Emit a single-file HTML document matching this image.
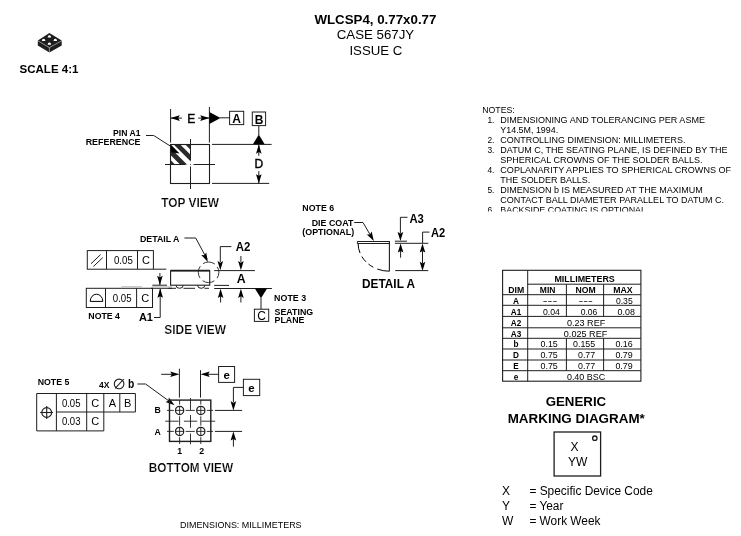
<!DOCTYPE html>
<html><head><meta charset="utf-8"><style>
html,body{margin:0;padding:0;background:#fff;}
svg{display:block;font-family:"Liberation Sans",sans-serif;will-change:transform;}
</style></head><body>
<svg width="741" height="536" viewBox="0 0 741 536">
<defs>
<clipPath id="nclip"><rect x="470" y="95" width="271" height="116.4"/></clipPath>
<clipPath id="hclip"><rect x="170.5" y="144.5" width="20" height="20"/></clipPath>
</defs>
<rect width="741" height="536" fill="#fff"/>
<polygon points="49.40,33.00 61.70,40.60 61.70,45.40 49.40,52.60 37.80,45.40 37.80,40.60" fill="#1e1e1e" />
<polyline points="37.8,40.8 49.4,47.6 61.7,40.8" fill="none" stroke="#fff" stroke-width="0.5" />
<line x1="49.4" y1="47.6" x2="49.4" y2="52.6" stroke="#fff" stroke-width="0.5" />
<path d="M47.6,37.5 Q47.9,35.1 49.4,35.2 Q50.9,35.1 51.199999999999996,37.5 Z" fill="#fff"/>
<path d="M41.800000000000004,41.1 Q42.1,38.7 43.6,38.800000000000004 Q45.1,38.7 45.4,41.1 Z" fill="#fff"/>
<path d="M53.5,41.1 Q53.8,38.7 55.3,38.800000000000004 Q56.8,38.7 57.099999999999994,41.1 Z" fill="#fff"/>
<path d="M47.6,44.699999999999996 Q47.9,42.3 49.4,42.4 Q50.9,42.3 51.199999999999996,44.699999999999996 Z" fill="#fff"/>
<text x="19.5" y="72.5" font-size="11.8" font-weight="bold" text-anchor="start" textLength="59" lengthAdjust="spacingAndGlyphs" fill="#000" >SCALE 4:1</text>
<text x="314.4" y="23.9" font-size="13.2" font-weight="bold" text-anchor="start" textLength="122" lengthAdjust="spacingAndGlyphs" fill="#000" >WLCSP4, 0.77x0.77</text>
<text x="336.7" y="39" font-size="13" font-weight="normal" text-anchor="start" textLength="77.5" lengthAdjust="spacingAndGlyphs" fill="#000" >CASE 567JY</text>
<text x="349.4" y="54.5" font-size="13" font-weight="normal" text-anchor="start" textLength="53" lengthAdjust="spacingAndGlyphs" fill="#000" >ISSUE C</text>
<g clip-path="url(#nclip)">
<text x="482.2" y="113.2" font-size="8.4" font-weight="normal" text-anchor="start" textLength="32.6" lengthAdjust="spacingAndGlyphs" fill="#000" >NOTES:</text>
<text x="487.4" y="123.1" font-size="8.4" font-weight="normal" text-anchor="start" fill="#000" >1.</text>
<text x="500.3" y="123.1" font-size="8.4" font-weight="normal" text-anchor="start" textLength="204.7" lengthAdjust="spacingAndGlyphs" fill="#000" >DIMENSIONING AND TOLERANCING PER ASME</text>
<text x="500.3" y="133.1" font-size="8.4" font-weight="normal" text-anchor="start" textLength="57.9" lengthAdjust="spacingAndGlyphs" fill="#000" >Y14.5M, 1994.</text>
<text x="487.4" y="143.1" font-size="8.4" font-weight="normal" text-anchor="start" fill="#000" >2.</text>
<text x="500.3" y="143.1" font-size="8.4" font-weight="normal" text-anchor="start" textLength="185.2" lengthAdjust="spacingAndGlyphs" fill="#000" >CONTROLLING DIMENSION: MILLIMETERS.</text>
<text x="487.4" y="153.1" font-size="8.4" font-weight="normal" text-anchor="start" fill="#000" >3.</text>
<text x="500.3" y="153.1" font-size="8.4" font-weight="normal" text-anchor="start" textLength="227.2" lengthAdjust="spacingAndGlyphs" fill="#000" >DATUM C, THE SEATING PLANE, IS DEFINED BY THE</text>
<text x="500.3" y="163.1" font-size="8.4" font-weight="normal" text-anchor="start" textLength="202.3" lengthAdjust="spacingAndGlyphs" fill="#000" >SPHERICAL CROWNS OF THE SOLDER BALLS.</text>
<text x="487.4" y="173.1" font-size="8.4" font-weight="normal" text-anchor="start" fill="#000" >4.</text>
<text x="500.3" y="173.1" font-size="8.4" font-weight="normal" text-anchor="start" textLength="230.8" lengthAdjust="spacingAndGlyphs" fill="#000" >COPLANARITY APPLIES TO SPHERICAL CROWNS OF</text>
<text x="500.3" y="183.1" font-size="8.4" font-weight="normal" text-anchor="start" textLength="90.0" lengthAdjust="spacingAndGlyphs" fill="#000" >THE SOLDER BALLS.</text>
<text x="487.4" y="193.1" font-size="8.4" font-weight="normal" text-anchor="start" fill="#000" >5.</text>
<text x="500.3" y="193.1" font-size="8.4" font-weight="normal" text-anchor="start" textLength="202.5" lengthAdjust="spacingAndGlyphs" fill="#000" >DIMENSION b IS MEASURED AT THE MAXIMUM</text>
<text x="500.3" y="203.1" font-size="8.4" font-weight="normal" text-anchor="start" textLength="223.8" lengthAdjust="spacingAndGlyphs" fill="#000" >CONTACT BALL DIAMETER PARALLEL TO DATUM C.</text>
<text x="487.4" y="213.1" font-size="8.4" font-weight="normal" text-anchor="start" fill="#000" >6.</text>
<text x="500.3" y="213.1" font-size="8.4" font-weight="normal" text-anchor="start" textLength="145.7" lengthAdjust="spacingAndGlyphs" fill="#000" >BACKSIDE COATING IS OPTIONAL</text>
</g>
<g clip-path="url(#hclip)">
<polygon points="130.00,140.00 150.50,140.00 180.50,170.00 160.00,170.00" fill="#2a2a2a" />
<polygon points="155.50,140.00 162.50,140.00 192.50,170.00 185.50,170.00" fill="#2a2a2a" />
<polygon points="169.20,140.00 175.70,140.00 205.70,170.00 199.20,170.00" fill="#2a2a2a" />
<polygon points="180.80,140.00 188.00,140.00 218.00,170.00 210.80,170.00" fill="#2a2a2a" />
<polygon points="170.50,144.30 179.60,153.40 170.50,152.20" fill="#000" />
</g>
<rect x="170.5" y="144.5" width="39.0" height="39.0" fill="none" stroke="#1e1e1e" stroke-width="1.1"/>
<line x1="190.5" y1="139" x2="190.5" y2="160.5" stroke="#1e1e1e" stroke-width="1.0" />
<line x1="190.5" y1="166.5" x2="190.5" y2="189" stroke="#1e1e1e" stroke-width="1.0" />
<line x1="165" y1="164.5" x2="185.5" y2="164.5" stroke="#1e1e1e" stroke-width="1.0" />
<line x1="193.5" y1="164.5" x2="215" y2="164.5" stroke="#1e1e1e" stroke-width="1.0" />
<rect x="190" y="164" width="1" height="1" fill="#666"/>
<line x1="170.6" y1="109" x2="170.6" y2="142.6" stroke="#1e1e1e" stroke-width="1.0" />
<line x1="209.4" y1="107" x2="209.4" y2="142.6" stroke="#1e1e1e" stroke-width="1.0" />
<line x1="170.6" y1="118.1" x2="182" y2="118.1" stroke="#1e1e1e" stroke-width="1.0" />
<line x1="198.2" y1="118.1" x2="209.4" y2="118.1" stroke="#1e1e1e" stroke-width="1.0" />
<polygon points="170.60,118.10 179.80,115.30 178.20,118.10 179.80,120.90" fill="#000" />
<polygon points="209.40,118.10 200.20,120.90 201.80,118.10 200.20,115.30" fill="#000" />
<text x="191.2" y="122.6" font-size="12" font-weight="normal" text-anchor="middle" fill="#000"  stroke="#000" stroke-width="0.4">E</text>
<polygon points="209.40,111.90 209.40,124.00 220.50,117.90" fill="#000" />
<line x1="220" y1="117.8" x2="229.6" y2="117.8" stroke="#1e1e1e" stroke-width="1.0" />
<rect x="229.6" y="111.3" width="14.099999999999994" height="13.299999999999997" fill="none" stroke="#1e1e1e" stroke-width="1.0"/>
<text x="236.6" y="122.6" font-size="12" font-weight="bold" text-anchor="middle" fill="#000" >A</text>
<rect x="252.3" y="112" width="13.300000000000011" height="13.599999999999994" fill="none" stroke="#1e1e1e" stroke-width="1.0"/>
<text x="259" y="123.6" font-size="12" font-weight="bold" text-anchor="middle" fill="#000" >B</text>
<line x1="258.8" y1="125.6" x2="258.8" y2="135" stroke="#1e1e1e" stroke-width="1.0" />
<polygon points="252.80,144.50 264.80,144.50 258.80,134.40" fill="#000" />
<line x1="212" y1="144.4" x2="271.6" y2="144.4" stroke="#1e1e1e" stroke-width="1.0" />
<line x1="212" y1="183.4" x2="269.2" y2="183.4" stroke="#1e1e1e" stroke-width="1.0" />
<line x1="258.8" y1="144.5" x2="258.8" y2="155.8" stroke="#1e1e1e" stroke-width="1.0" />
<line x1="258.8" y1="171.2" x2="258.8" y2="183.4" stroke="#1e1e1e" stroke-width="1.0" />
<polygon points="258.80,144.50 261.60,153.70 258.80,152.10 256.00,153.70" fill="#000" />
<polygon points="258.80,183.40 256.00,174.20 258.80,175.80 261.60,174.20" fill="#000" />
<text x="258.9" y="167.7" font-size="12" font-weight="normal" text-anchor="middle" fill="#000"  stroke="#000" stroke-width="0.4">D</text>
<text x="113.1" y="136" font-size="8.6" font-weight="bold" text-anchor="start" textLength="27.4" lengthAdjust="spacingAndGlyphs" fill="#000" >PIN A1</text>
<text x="85.7" y="145.2" font-size="8.6" font-weight="bold" text-anchor="start" textLength="54.8" lengthAdjust="spacingAndGlyphs" fill="#000" >REFERENCE</text>
<polyline points="146,135.5 153.7,135.5 171,146.5" fill="none" stroke="#1e1e1e" stroke-width="1.0" />
<text x="161.3" y="206.9" font-size="12.5" font-weight="bold" text-anchor="start" textLength="57.6" lengthAdjust="spacingAndGlyphs" fill="#000" stroke="#fff" stroke-width="0.2">TOP VIEW</text>
<rect x="87.3" y="250.6" width="66.10000000000001" height="18.599999999999994" fill="none" stroke="#1e1e1e" stroke-width="1.0"/>
<line x1="106.5" y1="250.6" x2="106.5" y2="269.2" stroke="#1e1e1e" stroke-width="1.0" />
<line x1="137.5" y1="250.6" x2="137.5" y2="269.2" stroke="#1e1e1e" stroke-width="1.0" />
<line x1="153.4" y1="269.2" x2="166.3" y2="269.2" stroke="#1e1e1e" stroke-width="1.0" />
<line x1="91" y1="263.7" x2="100.6" y2="254.6" stroke="#1e1e1e" stroke-width="1.0" />
<line x1="93.4" y1="266.5" x2="102.8" y2="257.6" stroke="#1e1e1e" stroke-width="1.0" />
<text x="114" y="263.7" font-size="11" font-weight="normal" text-anchor="start" textLength="18.8" lengthAdjust="spacingAndGlyphs" fill="#000" >0.05</text>
<text x="145.9" y="263.7" font-size="11" font-weight="normal" text-anchor="middle" fill="#000" >C</text>
<rect x="86.3" y="288.3" width="66.2" height="19.19999999999999" fill="none" stroke="#1e1e1e" stroke-width="1.0"/>
<line x1="105.5" y1="288.3" x2="105.5" y2="307.5" stroke="#1e1e1e" stroke-width="1.0" />
<line x1="136.6" y1="288.3" x2="136.6" y2="307.5" stroke="#1e1e1e" stroke-width="1.0" />
<path d="M90.2,301.4 A6.3,7.2 0 0 1 102.8,301.4 Z" fill="none" stroke="#000" stroke-width="1"/>
<text x="112.8" y="301.5" font-size="11" font-weight="normal" text-anchor="start" textLength="18.8" lengthAdjust="spacingAndGlyphs" fill="#000" >0.05</text>
<text x="145.2" y="301.5" font-size="11" font-weight="normal" text-anchor="middle" fill="#000" >C</text>
<text x="88.3" y="318.8" font-size="8.6" font-weight="bold" text-anchor="start" textLength="31.7" lengthAdjust="spacingAndGlyphs" fill="#000" >NOTE 4</text>
<text x="138.9" y="320.5" font-size="11.5" font-weight="bold" text-anchor="start" textLength="14" lengthAdjust="spacingAndGlyphs" fill="#000" >A1</text>
<polyline points="154,317.5 160.2,317.5 160.2,289" fill="none" stroke="#1e1e1e" stroke-width="1.0" />
<polygon points="160.20,288.60 163.00,297.80 160.20,296.20 157.40,297.80" fill="#000" />
<line x1="159.9" y1="273" x2="159.9" y2="285" stroke="#1e1e1e" stroke-width="1.0" />
<polygon points="159.90,285.00 157.10,275.80 159.90,277.40 162.70,275.80" fill="#000" />
<line x1="152.4" y1="285.2" x2="167" y2="285.2" stroke="#1e1e1e" stroke-width="1.0" />
<line x1="151" y1="288.3" x2="172" y2="288.3" stroke="#1e1e1e" stroke-width="1.0" />
<line x1="121.3" y1="286.8" x2="142" y2="286.8" stroke="#b4b4b4" stroke-width="1" />
<line x1="152" y1="286.8" x2="172" y2="286.8" stroke="#aaa" stroke-width="0.8" />
<rect x="170.6" y="270.7" width="39.099999999999994" height="14.5" fill="none" stroke="#1e1e1e" stroke-width="1.1"/>
<line x1="170.6" y1="270.7" x2="209.7" y2="270.7" stroke="#1e1e1e" stroke-width="1.8" />
<path d="M176,285.3 A3.6,3 0 0 0 183.2,285.3" fill="none" stroke="#1e1e1e" stroke-width="1"/>
<path d="M197.6,285.3 A3.6,3 0 0 0 204.8,285.3" fill="none" stroke="#1e1e1e" stroke-width="1"/>
<line x1="168.5" y1="288.3" x2="176" y2="288.3" stroke="#1e1e1e" stroke-width="1.0" />
<line x1="183.5" y1="288.3" x2="195" y2="288.3" stroke="#1e1e1e" stroke-width="1.0" />
<line x1="204.5" y1="288.3" x2="209" y2="288.3" stroke="#1e1e1e" stroke-width="1.0" />
<circle cx="208.6" cy="272.3" r="10.3" fill="none" stroke="#1e1e1e" stroke-width="0.9" stroke-dasharray="12.4 3.8" stroke-dashoffset="6.2"/>
<text x="139.9" y="242.1" font-size="8.7" font-weight="bold" text-anchor="start" textLength="39.6" lengthAdjust="spacingAndGlyphs" fill="#000" >DETAIL A</text>
<polyline points="184.4,238 195.7,238 207,259" fill="none" stroke="#1e1e1e" stroke-width="1.0" />
<polygon points="207.90,262.00 201.24,255.07 204.46,255.23 206.23,252.53" fill="#000" />
<polyline points="231.4,246.6 220.3,246.6 220.3,262" fill="none" stroke="#1e1e1e" stroke-width="1.0" />
<polygon points="220.30,270.30 217.50,261.10 220.30,262.70 223.10,261.10" fill="#000" />
<text x="235.7" y="250.6" font-size="12.2" font-weight="bold" text-anchor="start" textLength="14.6" lengthAdjust="spacingAndGlyphs" fill="#000" >A2</text>
<line x1="240.9" y1="256" x2="240.9" y2="262" stroke="#1e1e1e" stroke-width="1.0" />
<polygon points="240.90,270.30 238.10,261.10 240.90,262.70 243.70,261.10" fill="#000" />
<text x="241.2" y="282.9" font-size="12.3" font-weight="bold" text-anchor="middle" fill="#000" >A</text>
<line x1="214.2" y1="270.6" x2="254.9" y2="270.6" stroke="#1e1e1e" stroke-width="1.0" />
<line x1="214.2" y1="285.4" x2="229" y2="285.4" stroke="#1e1e1e" stroke-width="1.0" />
<line x1="214.2" y1="288.5" x2="271.9" y2="288.5" stroke="#1e1e1e" stroke-width="1.0" />
<line x1="220.6" y1="293" x2="220.6" y2="302.5" stroke="#1e1e1e" stroke-width="1.0" />
<polygon points="220.60,288.70 223.40,297.90 220.60,296.30 217.80,297.90" fill="#000" />
<line x1="240.9" y1="293" x2="240.9" y2="302.5" stroke="#1e1e1e" stroke-width="1.0" />
<polygon points="240.90,288.70 243.70,297.90 240.90,296.30 238.10,297.90" fill="#000" />
<polygon points="254.90,288.50 267.10,288.50 261.00,298.20" fill="#000" />
<line x1="261" y1="298" x2="261" y2="309.2" stroke="#1e1e1e" stroke-width="1.0" />
<rect x="254.4" y="309.2" width="14.299999999999983" height="12.199999999999989" fill="none" stroke="#1e1e1e" stroke-width="1.0"/>
<text x="261.5" y="319.6" font-size="12" font-weight="normal" text-anchor="middle" fill="#000" >C</text>
<text x="274.1" y="300.9" font-size="8.6" font-weight="bold" text-anchor="start" textLength="32" lengthAdjust="spacingAndGlyphs" fill="#000" >NOTE 3</text>
<text x="274.6" y="314.8" font-size="8.6" font-weight="bold" text-anchor="start" textLength="38.6" lengthAdjust="spacingAndGlyphs" fill="#000" >SEATING</text>
<text x="274.6" y="322.8" font-size="8.6" font-weight="bold" text-anchor="start" textLength="29.8" lengthAdjust="spacingAndGlyphs" fill="#000" >PLANE</text>
<text x="164.3" y="333.7" font-size="12" font-weight="bold" text-anchor="start" textLength="61.6" lengthAdjust="spacingAndGlyphs" fill="#000" stroke="#fff" stroke-width="0.2">SIDE VIEW</text>
<text x="302.3" y="211" font-size="8.6" font-weight="bold" text-anchor="start" textLength="31.8" lengthAdjust="spacingAndGlyphs" fill="#000" >NOTE 6</text>
<text x="311.7" y="225.8" font-size="8.6" font-weight="bold" text-anchor="start" textLength="41.6" lengthAdjust="spacingAndGlyphs" fill="#000" >DIE COAT</text>
<text x="302.3" y="235" font-size="8.6" font-weight="bold" text-anchor="start" textLength="51.9" lengthAdjust="spacingAndGlyphs" fill="#000" >(OPTIONAL)</text>
<polyline points="354.2,222.5 363,222.5 372,238" fill="none" stroke="#1e1e1e" stroke-width="1.0" />
<polygon points="373.80,241.00 366.82,234.39 370.04,234.39 371.69,231.62" fill="#000" />
<line x1="357.4" y1="241.5" x2="389.8" y2="241.5" stroke="#1e1e1e" stroke-width="1.0" />
<line x1="357.4" y1="243.5" x2="389.8" y2="243.5" stroke="#1e1e1e" stroke-width="1.0" />
<line x1="357.4" y1="241.5" x2="357.4" y2="243.5" stroke="#1e1e1e" stroke-width="1.0" />
<line x1="389.4" y1="241.5" x2="389.4" y2="271.2" stroke="#1e1e1e" stroke-width="1.1" />
<path d="M358.1,243.5 A31.3,27.8 0 0 0 389.4,271.2" fill="none" stroke="#000" stroke-width="1" stroke-dasharray="9.8 3.9 6.7 3.4 5.8 4.3 14"/>
<line x1="394.9" y1="241.2" x2="407" y2="241.2" stroke="#1e1e1e" stroke-width="1.0" />
<line x1="394.9" y1="243.3" x2="428.3" y2="243.3" stroke="#1e1e1e" stroke-width="1.0" />
<polyline points="407.5,217.3 400.4,217.3 400.4,233" fill="none" stroke="#1e1e1e" stroke-width="1.0" />
<polygon points="400.40,241.10 397.60,231.90 400.40,233.50 403.20,231.90" fill="#000" />
<line x1="400.6" y1="250" x2="400.6" y2="257.7" stroke="#1e1e1e" stroke-width="1.0" />
<polygon points="400.60,243.40 403.40,252.60 400.60,251.00 397.80,252.60" fill="#000" />
<text x="409.4" y="222.8" font-size="12.2" font-weight="bold" text-anchor="start" textLength="14.4" lengthAdjust="spacingAndGlyphs" fill="#000" >A3</text>
<polyline points="429.5,232.1 422.6,232.1 422.6,243" fill="none" stroke="#1e1e1e" stroke-width="1.0" />
<polygon points="422.50,243.40 425.30,252.60 422.50,251.00 419.70,252.60" fill="#000" />
<polygon points="422.50,271.00 419.70,261.80 422.50,263.40 425.30,261.80" fill="#000" />
<line x1="422.5" y1="250" x2="422.5" y2="264" stroke="#1e1e1e" stroke-width="1.0" />
<line x1="395.2" y1="270.6" x2="428.3" y2="270.6" stroke="#1e1e1e" stroke-width="1.0" />
<text x="431.1" y="236.6" font-size="12.2" font-weight="bold" text-anchor="start" textLength="14.2" lengthAdjust="spacingAndGlyphs" fill="#000" >A2</text>
<text x="362.1" y="288.3" font-size="12" font-weight="bold" text-anchor="start" textLength="52.9" lengthAdjust="spacingAndGlyphs" fill="#000" >DETAIL A</text>
<text x="37.7" y="384.8" font-size="8.8" font-weight="bold" text-anchor="start" textLength="31.6" lengthAdjust="spacingAndGlyphs" fill="#000" >NOTE 5</text>
<polyline points="36.7,393.5 135.4,393.5 135.4,412 103.8,412 103.8,430.9 36.7,430.9 36.7,393.5" fill="none" stroke="#1e1e1e" stroke-width="1.0" />
<line x1="56.4" y1="393.5" x2="56.4" y2="430.9" stroke="#1e1e1e" stroke-width="1.0" />
<line x1="86.7" y1="393.5" x2="86.7" y2="430.9" stroke="#1e1e1e" stroke-width="1.0" />
<line x1="103.8" y1="393.5" x2="103.8" y2="412" stroke="#1e1e1e" stroke-width="1.0" />
<line x1="119.8" y1="393.5" x2="119.8" y2="412" stroke="#1e1e1e" stroke-width="1.0" />
<line x1="56.4" y1="412" x2="103.8" y2="412" stroke="#1e1e1e" stroke-width="1.0" />
<circle cx="46.7" cy="412.5" r="4.9" fill="none" stroke="#1e1e1e" stroke-width="1.1" />
<line x1="40.2" y1="412.5" x2="53" y2="412.5" stroke="#1e1e1e" stroke-width="1.1" />
<line x1="46.7" y1="406" x2="46.7" y2="419.1" stroke="#1e1e1e" stroke-width="1.1" />
<text x="61.9" y="407.4" font-size="11" font-weight="normal" text-anchor="start" textLength="18.6" lengthAdjust="spacingAndGlyphs" fill="#000" >0.05</text>
<text x="95.3" y="407.4" font-size="11" font-weight="normal" text-anchor="middle" fill="#000" >C</text>
<text x="112.4" y="407.2" font-size="11" font-weight="normal" text-anchor="middle" fill="#000" >A</text>
<text x="127.6" y="407.2" font-size="11" font-weight="normal" text-anchor="middle" fill="#000" >B</text>
<text x="61.9" y="424.8" font-size="11" font-weight="normal" text-anchor="start" textLength="18.6" lengthAdjust="spacingAndGlyphs" fill="#000" >0.03</text>
<text x="95.3" y="424.8" font-size="11" font-weight="normal" text-anchor="middle" fill="#000" >C</text>
<text x="99.1" y="387.8" font-size="8.9" font-weight="bold" text-anchor="start" textLength="10.4" lengthAdjust="spacingAndGlyphs" fill="#000" >4X</text>
<circle cx="119.1" cy="383.9" r="4.8" fill="none" stroke="#1e1e1e" stroke-width="1.1" />
<line x1="115.2" y1="388.3" x2="123.8" y2="379" stroke="#1e1e1e" stroke-width="1.1" />
<text x="128" y="388" font-size="12.3" font-weight="bold" text-anchor="start" textLength="6.3" lengthAdjust="spacingAndGlyphs" fill="#000" >b</text>
<polyline points="137.4,384 145.6,384 171,402.5" fill="none" stroke="#1e1e1e" stroke-width="1.0" />
<polygon points="174.60,405.30 165.53,402.11 168.47,400.80 168.84,397.60" fill="#000" />
<rect x="169.5" y="400.1" width="41.30000000000001" height="41.299999999999955" fill="none" stroke="#1e1e1e" stroke-width="1.4"/>
<circle cx="179.6" cy="410.4" r="4.1" fill="none" stroke="#1e1e1e" stroke-width="1.25" />
<line x1="175.5" y1="410.4" x2="183.7" y2="410.4" stroke="#1e1e1e" stroke-width="0.9" />
<line x1="179.6" y1="406.29999999999995" x2="179.6" y2="414.5" stroke="#1e1e1e" stroke-width="0.9" />
<circle cx="179.6" cy="431.4" r="4.1" fill="none" stroke="#1e1e1e" stroke-width="1.25" />
<line x1="175.5" y1="431.4" x2="183.7" y2="431.4" stroke="#1e1e1e" stroke-width="0.9" />
<line x1="179.6" y1="427.29999999999995" x2="179.6" y2="435.5" stroke="#1e1e1e" stroke-width="0.9" />
<circle cx="200.8" cy="410.4" r="4.1" fill="none" stroke="#1e1e1e" stroke-width="1.25" />
<line x1="196.70000000000002" y1="410.4" x2="204.9" y2="410.4" stroke="#1e1e1e" stroke-width="0.9" />
<line x1="200.8" y1="406.29999999999995" x2="200.8" y2="414.5" stroke="#1e1e1e" stroke-width="0.9" />
<circle cx="200.8" cy="431.4" r="4.1" fill="none" stroke="#1e1e1e" stroke-width="1.25" />
<line x1="196.70000000000002" y1="431.4" x2="204.9" y2="431.4" stroke="#1e1e1e" stroke-width="0.9" />
<line x1="200.8" y1="427.29999999999995" x2="200.8" y2="435.5" stroke="#1e1e1e" stroke-width="0.9" />
<line x1="179.6" y1="400" x2="179.6" y2="404.6" stroke="#1e1e1e" stroke-width="0.9" />
<line x1="179.6" y1="416.3" x2="179.6" y2="425.6" stroke="#1e1e1e" stroke-width="0.9" />
<line x1="179.6" y1="437.2" x2="179.6" y2="444" stroke="#1e1e1e" stroke-width="0.9" />
<line x1="200.8" y1="400" x2="200.8" y2="404.6" stroke="#1e1e1e" stroke-width="0.9" />
<line x1="200.8" y1="416.3" x2="200.8" y2="425.6" stroke="#1e1e1e" stroke-width="0.9" />
<line x1="200.8" y1="437.2" x2="200.8" y2="444" stroke="#1e1e1e" stroke-width="0.9" />
<line x1="167" y1="410.4" x2="173.8" y2="410.4" stroke="#1e1e1e" stroke-width="0.9" />
<line x1="185.6" y1="410.4" x2="194.8" y2="410.4" stroke="#1e1e1e" stroke-width="0.9" />
<line x1="206.8" y1="410.4" x2="213" y2="410.4" stroke="#1e1e1e" stroke-width="0.9" />
<line x1="167" y1="431.4" x2="173.8" y2="431.4" stroke="#1e1e1e" stroke-width="0.9" />
<line x1="185.6" y1="431.4" x2="194.8" y2="431.4" stroke="#1e1e1e" stroke-width="0.9" />
<line x1="206.8" y1="431.4" x2="213" y2="431.4" stroke="#1e1e1e" stroke-width="0.9" />
<line x1="190.5" y1="398" x2="190.5" y2="409.9" stroke="#1e1e1e" stroke-width="0.9" />
<line x1="190.5" y1="415" x2="190.5" y2="427.8" stroke="#1e1e1e" stroke-width="0.9" />
<line x1="190.5" y1="433.5" x2="190.5" y2="444.3" stroke="#1e1e1e" stroke-width="0.9" />
<line x1="165.2" y1="421.2" x2="178.7" y2="421.2" stroke="#1e1e1e" stroke-width="0.9" />
<line x1="183.9" y1="421.2" x2="197.2" y2="421.2" stroke="#1e1e1e" stroke-width="0.9" />
<line x1="201.3" y1="421.2" x2="215.2" y2="421.2" stroke="#1e1e1e" stroke-width="0.9" />
<text x="157.6" y="413" font-size="8.7" font-weight="bold" text-anchor="middle" fill="#000" >B</text>
<text x="157.6" y="435" font-size="8.7" font-weight="bold" text-anchor="middle" fill="#000" >A</text>
<text x="179.8" y="453.9" font-size="8.8" font-weight="bold" text-anchor="middle" fill="#000" >1</text>
<text x="201.7" y="453.9" font-size="8.8" font-weight="bold" text-anchor="middle" fill="#000" >2</text>
<line x1="179.4" y1="368.7" x2="179.4" y2="397.6" stroke="#1e1e1e" stroke-width="1.0" />
<line x1="200.5" y1="370.2" x2="200.5" y2="397.6" stroke="#1e1e1e" stroke-width="1.0" />
<line x1="161.2" y1="374.3" x2="172" y2="374.3" stroke="#1e1e1e" stroke-width="1.0" />
<polygon points="179.40,374.30 170.20,377.10 171.80,374.30 170.20,371.50" fill="#000" />
<line x1="208" y1="374.3" x2="218.6" y2="374.3" stroke="#1e1e1e" stroke-width="1.0" />
<polygon points="200.50,374.30 209.70,371.50 208.10,374.30 209.70,377.10" fill="#000" />
<rect x="218.6" y="366.5" width="16.0" height="15.899999999999977" fill="none" stroke="#1e1e1e" stroke-width="1.0"/>
<text x="226.6" y="379.2" font-size="11.5" font-weight="bold" text-anchor="middle" fill="#000" >e</text>
<rect x="243.4" y="379.3" width="16.299999999999983" height="16.30000000000001" fill="none" stroke="#1e1e1e" stroke-width="1.0"/>
<text x="251.5" y="392.3" font-size="11.5" font-weight="bold" text-anchor="middle" fill="#000" >e</text>
<polyline points="243.4,387.4 233.4,387.4 233.4,402" fill="none" stroke="#1e1e1e" stroke-width="1.0" />
<polygon points="233.40,410.40 230.60,401.20 233.40,402.80 236.20,401.20" fill="#000" />
<line x1="214.9" y1="410.4" x2="242.1" y2="410.4" stroke="#1e1e1e" stroke-width="1.0" />
<line x1="214.9" y1="431.4" x2="242.1" y2="431.4" stroke="#1e1e1e" stroke-width="1.0" />
<line x1="233.4" y1="439" x2="233.4" y2="446.6" stroke="#1e1e1e" stroke-width="1.0" />
<polygon points="233.40,431.40 236.20,440.60 233.40,439.00 230.60,440.60" fill="#000" />
<text x="148.8" y="471.7" font-size="12" font-weight="bold" text-anchor="start" textLength="84.3" lengthAdjust="spacingAndGlyphs" fill="#000" stroke="#fff" stroke-width="0.2">BOTTOM VIEW</text>
<rect x="502.6" y="270.3" width="138.29999999999995" height="110.89999999999998" fill="none" stroke="#1e1e1e" stroke-width="1.1"/>
<line x1="527.7" y1="270.3" x2="527.7" y2="381.2" stroke="#1e1e1e" stroke-width="1.0" />
<line x1="527.7" y1="284.2" x2="640.9" y2="284.2" stroke="#1e1e1e" stroke-width="1.0" />
<line x1="502.6" y1="294.7" x2="640.9" y2="294.7" stroke="#1e1e1e" stroke-width="1.0" />
<line x1="502.6" y1="305.3" x2="640.9" y2="305.3" stroke="#1e1e1e" stroke-width="1.0" />
<line x1="502.6" y1="316.4" x2="640.9" y2="316.4" stroke="#1e1e1e" stroke-width="1.0" />
<line x1="502.6" y1="327.8" x2="640.9" y2="327.8" stroke="#1e1e1e" stroke-width="1.0" />
<line x1="502.6" y1="338.3" x2="640.9" y2="338.3" stroke="#1e1e1e" stroke-width="1.0" />
<line x1="502.6" y1="349" x2="640.9" y2="349" stroke="#1e1e1e" stroke-width="1.0" />
<line x1="502.6" y1="360" x2="640.9" y2="360" stroke="#1e1e1e" stroke-width="1.0" />
<line x1="502.6" y1="370.7" x2="640.9" y2="370.7" stroke="#1e1e1e" stroke-width="1.0" />
<line x1="566.4" y1="284.2" x2="566.4" y2="316.4" stroke="#1e1e1e" stroke-width="1.0" />
<line x1="566.4" y1="338.3" x2="566.4" y2="370.7" stroke="#1e1e1e" stroke-width="1.0" />
<line x1="603.6" y1="284.2" x2="603.6" y2="316.4" stroke="#1e1e1e" stroke-width="1.0" />
<line x1="603.6" y1="338.3" x2="603.6" y2="370.7" stroke="#1e1e1e" stroke-width="1.0" />
<text x="584.6" y="281.8" font-size="8.2" font-weight="bold" text-anchor="middle" textLength="60.4" lengthAdjust="spacingAndGlyphs" fill="#000" >MILLIMETERS</text>
<text x="516.2" y="292.6" font-size="8.2" font-weight="bold" text-anchor="middle" textLength="16" lengthAdjust="spacingAndGlyphs" fill="#000" >DIM</text>
<text x="547.6" y="292.6" font-size="8.2" font-weight="bold" text-anchor="middle" textLength="15.6" lengthAdjust="spacingAndGlyphs" fill="#000" >MIN</text>
<text x="585.7" y="292.6" font-size="8.2" font-weight="bold" text-anchor="middle" textLength="20.2" lengthAdjust="spacingAndGlyphs" fill="#000" >NOM</text>
<text x="623" y="292.6" font-size="8.2" font-weight="bold" text-anchor="middle" textLength="19.4" lengthAdjust="spacingAndGlyphs" fill="#000" >MAX</text>
<text x="516" y="303.6" font-size="8.2" font-weight="bold" text-anchor="middle" fill="#000" >A</text>
<text x="516" y="314.6" font-size="8.2" font-weight="bold" text-anchor="middle" fill="#000" >A1</text>
<text x="516" y="325.5" font-size="8.2" font-weight="bold" text-anchor="middle" fill="#000" >A2</text>
<text x="516" y="336.7" font-size="8.2" font-weight="bold" text-anchor="middle" fill="#000" >A3</text>
<text x="516" y="347.3" font-size="8.2" font-weight="bold" text-anchor="middle" fill="#000" >b</text>
<text x="516" y="358.2" font-size="8.2" font-weight="bold" text-anchor="middle" fill="#000" >D</text>
<text x="516" y="369" font-size="8.2" font-weight="bold" text-anchor="middle" fill="#000" >E</text>
<text x="516" y="379.7" font-size="8.2" font-weight="bold" text-anchor="middle" fill="#000" >e</text>
<text x="550" y="303.6" font-size="8.2" font-weight="normal" text-anchor="middle" textLength="14.5" lengthAdjust="spacingAndGlyphs" fill="#000" >---</text>
<text x="585.7" y="303.6" font-size="8.2" font-weight="normal" text-anchor="middle" textLength="14.5" lengthAdjust="spacingAndGlyphs" fill="#000" >---</text>
<text x="615.9" y="303.6" font-size="8.2" font-weight="normal" text-anchor="start" textLength="16.8" lengthAdjust="spacingAndGlyphs" fill="#000" >0.35</text>
<text x="542.9" y="314.6" font-size="8.2" font-weight="normal" text-anchor="start" textLength="17" lengthAdjust="spacingAndGlyphs" fill="#000" >0.04</text>
<text x="580.7" y="314.6" font-size="8.2" font-weight="normal" text-anchor="start" textLength="16.7" lengthAdjust="spacingAndGlyphs" fill="#000" >0.06</text>
<text x="617.6" y="314.6" font-size="8.2" font-weight="normal" text-anchor="start" textLength="17.3" lengthAdjust="spacingAndGlyphs" fill="#000" >0.08</text>
<text x="566.9" y="325.5" font-size="8.2" font-weight="normal" text-anchor="start" textLength="38.4" lengthAdjust="spacingAndGlyphs" fill="#000" >0.23 REF</text>
<text x="563.8" y="336.7" font-size="8.2" font-weight="normal" text-anchor="start" textLength="43.5" lengthAdjust="spacingAndGlyphs" fill="#000" >0.025 REF</text>
<text x="540.5" y="347.3" font-size="8.2" font-weight="normal" text-anchor="start" textLength="17.3" lengthAdjust="spacingAndGlyphs" fill="#000" >0.15</text>
<text x="573" y="347.3" font-size="8.2" font-weight="normal" text-anchor="start" textLength="22.2" lengthAdjust="spacingAndGlyphs" fill="#000" >0.155</text>
<text x="615.4" y="347.3" font-size="8.2" font-weight="normal" text-anchor="start" textLength="17.3" lengthAdjust="spacingAndGlyphs" fill="#000" >0.16</text>
<text x="540.5" y="358.2" font-size="8.2" font-weight="normal" text-anchor="start" textLength="17.3" lengthAdjust="spacingAndGlyphs" fill="#000" >0.75</text>
<text x="578" y="358.2" font-size="8.2" font-weight="normal" text-anchor="start" textLength="17.2" lengthAdjust="spacingAndGlyphs" fill="#000" >0.77</text>
<text x="615.4" y="358.2" font-size="8.2" font-weight="normal" text-anchor="start" textLength="17.3" lengthAdjust="spacingAndGlyphs" fill="#000" >0.79</text>
<text x="540.5" y="369" font-size="8.2" font-weight="normal" text-anchor="start" textLength="17.3" lengthAdjust="spacingAndGlyphs" fill="#000" >0.75</text>
<text x="578" y="369" font-size="8.2" font-weight="normal" text-anchor="start" textLength="17.2" lengthAdjust="spacingAndGlyphs" fill="#000" >0.77</text>
<text x="615.4" y="369" font-size="8.2" font-weight="normal" text-anchor="start" textLength="17.3" lengthAdjust="spacingAndGlyphs" fill="#000" >0.79</text>
<text x="566.9" y="379.7" font-size="8.2" font-weight="normal" text-anchor="start" textLength="38.4" lengthAdjust="spacingAndGlyphs" fill="#000" >0.40 BSC</text>
<text x="545.7" y="405.7" font-size="13.5" font-weight="bold" text-anchor="start" textLength="60.5" lengthAdjust="spacingAndGlyphs" fill="#000" >GENERIC</text>
<text x="507.7" y="422.6" font-size="13.5" font-weight="bold" text-anchor="start" textLength="137.1" lengthAdjust="spacingAndGlyphs" fill="#000" >MARKING DIAGRAM*</text>
<rect x="554.1" y="432" width="46.5" height="44" fill="none" stroke="#1e1e1e" stroke-width="1.3"/>
<circle cx="594.8" cy="438.2" r="2.2" fill="none" stroke="#1e1e1e" stroke-width="1.3" />
<text x="574.6" y="451.2" font-size="12" font-weight="normal" text-anchor="middle" fill="#000" >X</text>
<text x="577.6" y="465.8" font-size="12" font-weight="normal" text-anchor="middle" fill="#000" >YW</text>
<text x="501.9" y="495.2" font-size="12" font-weight="normal" text-anchor="start" fill="#000" >X</text>
<text x="529.4" y="495.2" font-size="12" font-weight="normal" text-anchor="start" textLength="123.4" lengthAdjust="spacingAndGlyphs" fill="#000" >= Specific Device Code</text>
<text x="501.9" y="510.1" font-size="12" font-weight="normal" text-anchor="start" fill="#000" >Y</text>
<text x="529.4" y="510.1" font-size="12" font-weight="normal" text-anchor="start" textLength="34" lengthAdjust="spacingAndGlyphs" fill="#000" >= Year</text>
<text x="501.9" y="525" font-size="12" font-weight="normal" text-anchor="start" fill="#000" >W</text>
<text x="529.4" y="525" font-size="12" font-weight="normal" text-anchor="start" textLength="71.1" lengthAdjust="spacingAndGlyphs" fill="#000" >= Work Week</text>
<text x="180.1" y="528.2" font-size="8.5" font-weight="normal" text-anchor="start" textLength="121.5" lengthAdjust="spacingAndGlyphs" fill="#000" >DIMENSIONS: MILLIMETERS</text>
</svg>
</body></html>
